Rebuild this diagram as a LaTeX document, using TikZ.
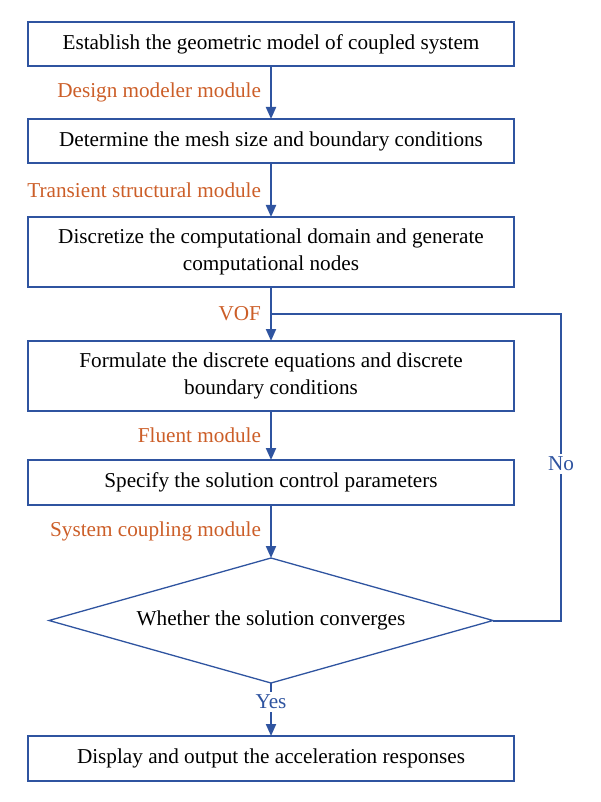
\documentclass[tikz,border=0pt]{standalone}
\usepackage{fontspec}
\setmainfont{Liberation Serif}
\usetikzlibrary{arrows.meta,shapes,positioning}

\definecolor{flowblue}{RGB}{47,84,160}
\definecolor{modorange}{RGB}{204,94,40}

\begin{document}
\begin{tikzpicture}[x=0.5pt, y=-0.5pt, node distance=27pt,
  every node/.style={font=\fontsize{10.6}{13.5}\selectfont},
  stepbox/.style={rectangle, draw=flowblue, line width=0.65pt, outer sep=0pt, minimum width=243pt, minimum height=22pt, align=center, inner sep=2pt},
  tallbox/.style={minimum height=35pt},
  decision/.style={diamond, draw=flowblue, line width=0.65pt, outer sep=0pt, aspect=3.55, minimum width=222pt, minimum height=62.5pt, inner sep=0pt},
  flow/.style={draw=flowblue, line width=1pt, -{Triangle[length=6pt,width=5pt]}},
  loopline/.style={draw=flowblue, line width=1pt},
  modlabel/.style={text=modorange, left, inner sep=4.5pt},
  answer/.style={text=flowblue, fill=white, inner sep=1.5pt}]
  \useasboundingbox (0,0) rectangle (600,802);

  \node (geometry) [stepbox] at (271,44) {Establish the geometric model of coupled system};
  \node (mesh) [stepbox, below=26.5pt of geometry] {Determine the mesh size and boundary conditions};
  \node (discretize) [stepbox, tallbox, below=of mesh] {Discretize the computational domain and generate\\computational nodes};
  \node (equations) [stepbox, tallbox, below=of discretize] {Formulate the discrete equations and discrete\\boundary conditions};
  \node (control) [stepbox, minimum height=22.5pt, below=24.5pt of equations] {Specify the solution control parameters};
  \node (converge) [decision, below=26.5pt of control] {Whether the solution converges};
  \node (display) [stepbox, minimum height=22.5pt, below=26.5pt of converge] {Display and output the acceleration responses};

  \draw [flow] (geometry) -- node[modlabel] {Design modeler module} (mesh);
  \draw [flow] (mesh) -- node[modlabel] {Transient structural module} (discretize);
  \draw [flow] (discretize) -- coordinate (vofpoint) node[modlabel] {VOF} (equations);
  \draw [flow] (equations) -- node[modlabel] {Fluent module} (control);
  \draw [flow] (control) -- node[modlabel] {System coupling module} (converge);
  \draw [flow] (converge) -- node[answer, pos=0.36] {Yes} (display);

  % back to the VOF step when not converged
  \coordinate (nocorner) at ([xshift=34pt]converge.east);
  \draw [loopline] (converge.east) -- (nocorner) |- node[answer, pos=0.256] {No} (vofpoint);
\end{tikzpicture}
\end{document}
